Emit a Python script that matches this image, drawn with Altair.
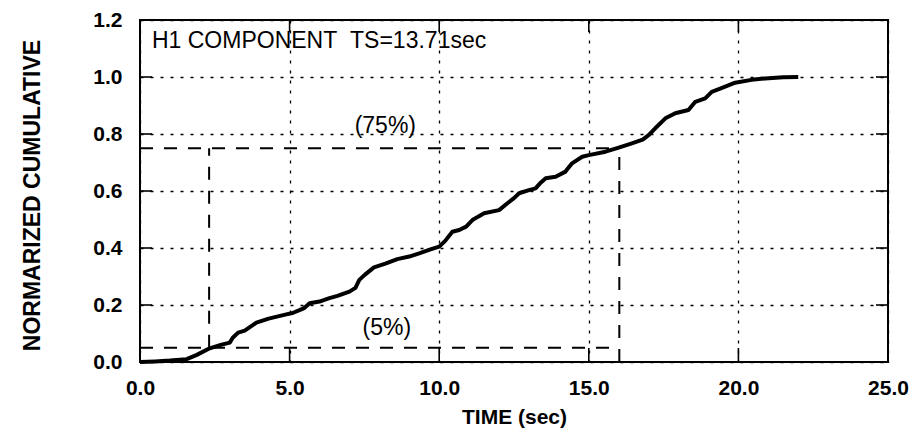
import altair as alt
import pandas as pd

# ---- data ----
time_s = [0, 0.5, 1.0, 1.56, 1.9, 2.33, 2.7, 3.0, 3.1, 3.28, 3.5, 3.89, 4.3, 4.89,
          5.1, 5.33, 5.5, 5.67, 6.0, 6.33, 6.6, 7.0, 7.2, 7.33, 7.5, 7.82, 8.2, 8.6,
          9.0, 9.33, 9.71, 10.0, 10.2, 10.44, 10.67, 10.9, 11.11, 11.3, 11.5, 12.0,
          12.28, 12.5, 12.67, 13.0, 13.22, 13.4, 13.56, 13.89, 14.22, 14.44, 14.78,
          15.0, 15.56, 16.0, 16.44, 16.8, 17.0, 17.22, 17.56, 17.89, 18.33, 18.56,
          18.89, 19.11, 19.56, 19.89, 20.44, 20.89, 21.5, 22.0]
cumulative = [0, 0.002, 0.005, 0.01, 0.025, 0.048, 0.06, 0.068, 0.085, 0.103, 0.11,
              0.138, 0.152, 0.167, 0.172, 0.182, 0.19, 0.206, 0.212, 0.224, 0.232,
              0.247, 0.26, 0.288, 0.305, 0.332, 0.345, 0.361, 0.37, 0.381, 0.395,
              0.405, 0.425, 0.457, 0.463, 0.475, 0.498, 0.51, 0.522, 0.533, 0.557,
              0.575, 0.592, 0.603, 0.609, 0.63, 0.645, 0.65, 0.668, 0.697, 0.72,
              0.726, 0.738, 0.752, 0.767, 0.78, 0.796, 0.82, 0.855, 0.873, 0.884,
              0.913, 0.925, 0.948, 0.966, 0.98, 0.99, 0.995, 0.999, 1.0]

# dashed 5% / 75% guide segments
seg_x = [0.0, 0.0, 2.31, 16.02]
seg_x2 = [16.02, 16.02, 2.31, 16.02]
seg_y = [0.05, 0.75, 0.05, 0.0]
seg_y2 = [0.05, 0.75, 0.75, 0.75]

# annotations
ann_text = ["H1 COMPONENT\u00a0\u00a0TS=13.71sec", "(75%)", "(5%)"]
ann_x = [0.4, 8.2, 8.25]
ann_y = [1.126, 0.828, 0.119]
ann_align = ["left", "center", "center"]

x_ticks = [0, 5, 10, 15, 20, 25]
y_ticks = [0.0, 0.2, 0.4, 0.6, 0.8, 1.0, 1.2]
x_inner = [5, 10, 15, 20]
y_inner = [0.2, 0.4, 0.6, 0.8, 1.0]

W, H = 748, 342
FONT = "Liberation Sans"

curve = pd.DataFrame({"t": time_s, "v": cumulative})
segs = pd.DataFrame({"t": seg_x, "t2": seg_x2, "v": seg_y, "v2": seg_y2})
anns = pd.DataFrame({"label": ann_text, "t": ann_x, "v": ann_y, "al": ann_align})
xin = pd.DataFrame({"t": x_inner})
yin = pd.DataFrame({"v": y_inner})

xs = alt.Scale(domain=[0, 25], nice=False, zero=False)
ys = alt.Scale(domain=[0, 1.2], nice=False, zero=False)

x_axis = alt.Axis(values=x_ticks, format=".1f", title="TIME (sec)",
                  grid=True, gridColor="black", gridDash=[3, 7], gridWidth=1.3,
                  ticks=False, tickSize=0, domain=False,
                  labelFont=FONT, labelFontSize=21, labelFontWeight="bold",
                  labelColor="black", labelPadding=15, labelFlush=False,
                  titleFont=FONT, titleFontSize=21, titleFontWeight="bold",
                  titleColor="black", titleY=61, titleBaseline="alphabetic")
y_axis = alt.Axis(values=y_ticks, format=".1f", title="NORMARIZED CUMULATIVE",
                  grid=True, gridColor="black", gridDash=[3, 7], gridWidth=1.3,
                  ticks=False, tickSize=0, domain=False,
                  labelFont=FONT, labelFontSize=21, labelFontWeight="bold",
                  labelColor="black", labelPadding=18, labelFlush=False,
                  titleFont=FONT, titleFontSize=23, titleFontWeight="bold",
                  titleColor="black", titleX=-108, titleY=H / 2 + 4,
                  titleAngle=270, titleAlign="center", titleBaseline="middle")

X = lambda f: alt.X(f, scale=xs, axis=x_axis)
Y = lambda f: alt.Y(f, scale=ys, axis=y_axis)

line = alt.Chart(curve).mark_line(color="black", strokeWidth=4, strokeJoin="round").encode(
    x=X("t:Q"), y=Y("v:Q"),
)

guides = alt.Chart(segs).mark_rule(color="black", strokeWidth=2, strokeDash=[13, 11]).encode(
    x=X("t:Q"), x2="t2:Q", y=Y("v:Q"), y2="v2:Q",
)

ann_left = alt.Chart(anns[anns["al"] == "left"]).mark_text(
    align="left", baseline="middle", font=FONT, fontSize=23, color="black"
).encode(x=X("t:Q"), y=Y("v:Q"), text="label:N")

ann_center = alt.Chart(anns[anns["al"] == "center"]).mark_text(
    align="center", baseline="middle", font=FONT, fontSize=23, color="black"
).encode(x=X("t:Q"), y=Y("v:Q"), text="label:N")

tick_l = alt.Chart(yin).mark_rule(color="black", strokeWidth=1.6).encode(
    y=Y("v:Q"), x=alt.value(0), x2=alt.value(12))
tick_r = alt.Chart(yin).mark_rule(color="black", strokeWidth=1.6).encode(
    y=Y("v:Q"), x=alt.value(W - 12), x2=alt.value(W))
tick_t = alt.Chart(xin).mark_rule(color="black", strokeWidth=1.6).encode(
    x=X("t:Q"), y=alt.value(0), y2=alt.value(12))
tick_b = alt.Chart(xin).mark_rule(color="black", strokeWidth=1.6).encode(
    x=X("t:Q"), y=alt.value(H - 14), y2=alt.value(H))

chart = alt.layer(line, guides, tick_l, tick_r, tick_t, tick_b, ann_left, ann_center).properties(
    width=W, height=H,
    autosize=alt.AutoSizeParams(type="none"),
    padding={"left": 132, "top": 12, "right": 22, "bottom": 67},
    background="white",
).configure_view(stroke="black", strokeWidth=2)

chart.save("out.html", embed_options={"renderer": "svg", "actions": False})
